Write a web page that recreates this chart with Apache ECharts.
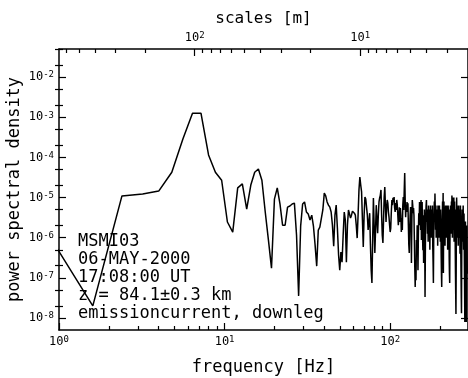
<!DOCTYPE html>
<html>
<head>
<meta charset="utf-8">
<script src="https://cdn.jsdelivr.net/npm/echarts@6/dist/echarts.min.js"></script>
<style>
  html, body { margin: 0; padding: 0; background: #fff; }
  #chart { width: 468px; height: 378px; }
</style>
</head>
<body>
<div id="chart"></div>
<script>
// spectrum bins are 0.8 Hz apart, the first one at 0.8 Hz
var binWidth = 0.8;
// log10 of the power spectral density in each bin
var psdLog10 = [
  -5.70, -7.70, -4.96, -4.91, -4.84, -4.37, -3.54, -2.90, -2.90, -3.94,
  -4.37, -4.57, -5.61, -5.86, -4.76, -4.66, -5.29, -4.69, -4.37, -4.29,
  -4.57, -5.36, -6.06, -6.76, -5.04, -4.76, -5.16, -5.69, -5.69, -5.24,
  -5.21, -5.16, -5.14, -5.94, -7.45, -5.71, -5.16, -5.11, -5.36, -5.41,
  -5.56, -5.44, -5.71, -6.18, -6.71, -5.81, -5.74, -5.71, -5.31, -4.89,
  -4.96, -5.11, -5.19, -5.24, -5.36, -5.69, -6.21, -5.44, -5.19, -5.76,
  -6.43, -6.81, -6.36, -6.61, -5.94, -5.36, -5.56, -6.61, -5.69, -5.31,
  -5.41, -5.51, -5.44, -5.34, -5.31, -5.39, -5.44, -5.69, -6.01, -5.44,
  -4.81, -4.49, -4.69, -4.86, -5.56, -6.23, -5.44, -4.99, -5.04, -5.06,
  -5.44, -5.81, -5.61, -5.39, -6.18, -6.81, -7.13, -6.06, -5.01, -5.69,
  -6.38, -5.81, -5.19, -5.56, -5.89, -5.44, -5.11, -5.01, -4.94, -4.81,
  -5.44, -5.94, -6.13, -5.56, -4.99, -4.74, -5.19, -5.61, -5.26, -5.06,
  -5.14, -5.36, -5.49, -5.69, -5.86, -5.76, -5.36, -5.06, -5.19, -5.01,
  -5.11, -4.99, -5.26, -5.36, -5.14, -5.31, -5.06, -5.19, -5.44, -5.69,
  -5.51, -5.24, -5.61, -5.26, -5.44, -5.86, -5.51, -5.81, -5.19, -4.99,
  -5.31, -4.81, -4.39, -5.06, -5.49, -5.19, -5.36, -5.11, -5.26, -5.14,
  -5.69, -6.18, -6.38, -5.81, -5.44, -5.24, -5.31, -6.63, -5.56, -5.06,
  -5.19, -5.39, -5.26, -5.44, -6.06, -6.73, -7.23, -6.61, -7.06, -6.06,
  -6.43, -5.69, -6.06, -6.81, -5.94, -5.39, -5.69, -5.11, -5.44, -5.19,
  -5.81, -5.06, -6.06, -5.31, -5.11, -5.94, -6.31, -5.44, -6.63, -5.81,
  -5.3, -6.0, -7.48, -6.2, -5.5, -5.2, -5.06, -5.6, -5.3, -5.9,
  -5.4, -6.1, -5.2, -5.5, -5.8, -5.3, -6.3, -5.6, -5.2, -5.7,
  -5.3, -6.0, -5.5, -5.9, -5.2, -6.2, -6.6, -7.13, -6.0, -5.4,
  -5.1, -5.6, -4.9, -5.3, -5.8, -5.2, -6.0, -5.5, -5.3, -5.9,
  -5.4, -6.2, -5.2, -5.7, -5.3, -6.0, -5.5, -5.2, -5.8, -5.4,
  -6.1, -5.3, -5.7, -6.4, -6.9, -7.23, -6.2, -5.5, -5.1, -5.6,
  -4.89, -6.88, -5.4, -5.1, -5.9, -5.3, -5.6, -6.2, -5.4, -5.2,
  -5.7, -5.3, -6.0, -5.5, -5.2, -5.9, -5.4, -6.3, -5.6, -5.2,
  -5.5, -6.0, -5.3, -6.5, -6.9, -7.13, -6.1, -5.4, -5.2, -5.7,
  -5.3, -5.9, -5.1, -5.6, -4.95, -5.5, -6.0, -5.3, -5.0, -5.8,
  -5.2, -5.6, -5.0, -6.1, -5.4, -5.1, -5.7, -5.3, -6.3, -6.9,
  -7.4, -7.9, -6.8, -5.6, -5.0, -5.5, -5.2, -6.0, -5.4, -5.8,
  -5.3, -6.2, -5.5, -5.2, -5.9, -5.4, -6.0, -5.3, -5.7, -6.4,
  -5.5, -5.2, -5.9, -6.5, -7.0, -7.5, -7.88, -6.6, -5.6, -5.3,
  -5.8, -5.4, -6.1, -5.5, -5.2, -5.9, -6.3, -5.6, -5.4, -6.0,
  -6.7, -7.4, -8.1, -7.0, -6.2, -5.6, -6.0, -6.8, -7.6, -8.1,
  -7.2, -6.1, -5.7, -6.3, -6.9
];

var freqDecades = [0, 1, 2];                      // 10^0 .. 10^2 Hz
var psdDecades = [-8, -7, -6, -5, -4, -3, -2];
var scaleDecades = [1, 2];                        // 10^1, 10^2 m
var minorSteps = [2, 3, 4, 5, 6, 7, 8, 9];
var psdMinorSteps = [2, 5];
var speed = 660;                                  // m/s, scale = speed / frequency
var xMax = 2.47, yMin = -8.3, yMax = -1.3;

var notes = ['MSMI03', '06-MAY-2000', '17:08:00 UT', 'z = 84.1\u00b10.3 km', 'emissioncurrent, downleg'];

var mono = 'DejaVu Sans Mono';

function minorTicks(steps, fromDec, toDec, lo, hi) {
  var out = [];
  for (var d = fromDec; d <= toDec; d++) {
    steps.forEach(function (m) {
      var v = d + Math.log10(m);
      if (v > lo && v < hi) out.push(v);
    });
  }
  return out;
}

var lgSpeed = Math.log10(speed);
var freqMinor = minorTicks(minorSteps, 0, 2, 0, xMax);
var scaleMinor = minorTicks(minorSteps, 0, 2, lgSpeed - xMax, lgSpeed);
var psdMinor = minorTicks(psdMinorSteps, -9, -2, yMin, yMax);

var lineStyle = { color: '#000', width: 1.5 };
var tickStyle = { color: '#000', width: 1.2 };

function pow10(v) {
  return '{b|10}{s|' + Math.round(v) + '}';
}
var rich = {
  b: { fontSize: 12, fontFamily: mono, color: '#000', lineHeight: 13 },
  s: { fontSize: 9, fontFamily: mono, color: '#000', verticalAlign: 'top', lineHeight: 9 }
};
var nameStyle = { fontFamily: mono, fontSize: 17, color: '#000' };

function majorAxis(o) {
  return Object.assign({
    type: 'value',
    nameMoveOverlap: false,
    splitLine: { show: false },
    axisLine: { show: true, onZero: false, lineStyle: lineStyle },
    axisTick: { show: true, inside: true, length: 7, lineStyle: tickStyle, customValues: o.ticks },
    axisLabel: o.labels ? { show: true, margin: 5, customValues: o.ticks, formatter: pow10, rich: rich } : { show: false }
  }, o.extra);
}
function minorAxis(o) {
  return Object.assign({
    type: 'value',
    splitLine: { show: false },
    axisLine: { show: false },
    axisTick: { show: true, inside: true, length: 4, lineStyle: tickStyle, customValues: o.ticks },
    axisLabel: { show: false }
  }, o.extra);
}

var chart = echarts.init(document.getElementById('chart'));

var data = psdLog10.map(function (v, i) {
  return [Math.log10(binWidth * (i + 1)), v];
});

chart.setOption({
  animation: false,
  backgroundColor: '#fff',
  grid: { left: 59, right: 0, top: 49, bottom: 48, containLabel: false, outerBoundsMode: 'none' },
  xAxis: [
    majorAxis({ ticks: freqDecades, labels: true, extra: {
      position: 'bottom', min: 0, max: xMax,
      name: 'frequency [Hz]', nameLocation: 'middle', nameGap: 29, nameTextStyle: nameStyle } }),
    minorAxis({ ticks: freqMinor, extra: { position: 'bottom', min: 0, max: xMax } }),
    majorAxis({ ticks: scaleDecades, labels: true, extra: {
      position: 'top', inverse: true, min: lgSpeed - xMax, max: lgSpeed,
      name: 'scales [m]', nameLocation: 'middle', nameGap: 22,
      nameTextStyle: Object.assign({}, nameStyle, { fontSize: 16 }) } }),
    minorAxis({ ticks: scaleMinor, extra: { position: 'top', inverse: true, min: lgSpeed - xMax, max: lgSpeed } })
  ],
  yAxis: [
    majorAxis({ ticks: psdDecades, labels: true, extra: {
      position: 'left', min: yMin, max: yMax,
      name: 'power spectral density', nameLocation: 'middle', nameGap: 36, nameTextStyle: nameStyle } }),
    minorAxis({ ticks: psdMinor, extra: { position: 'left', min: yMin, max: yMax } }),
    majorAxis({ ticks: psdDecades, labels: false, extra: { position: 'right', min: yMin, max: yMax } }),
    minorAxis({ ticks: psdMinor, extra: { position: 'right', min: yMin, max: yMax } })
  ],
  graphic: [{
    type: 'text',
    left: 78,
    top: 233,
    silent: true,
    style: {
      text: notes.join('\n'),
      font: '17px "DejaVu Sans Mono"',
      lineHeight: 18,
      fill: '#000'
    },
    z: 10
  }],
  series: [{
    type: 'line',
    xAxisIndex: 0,
    yAxisIndex: 0,
    data: data,
    showSymbol: false,
    symbol: 'none',
    clip: true,
    lineStyle: { color: '#000', width: 1.5 },
    emphasis: { disabled: true }
  }]
});
</script>
</body>
</html>
